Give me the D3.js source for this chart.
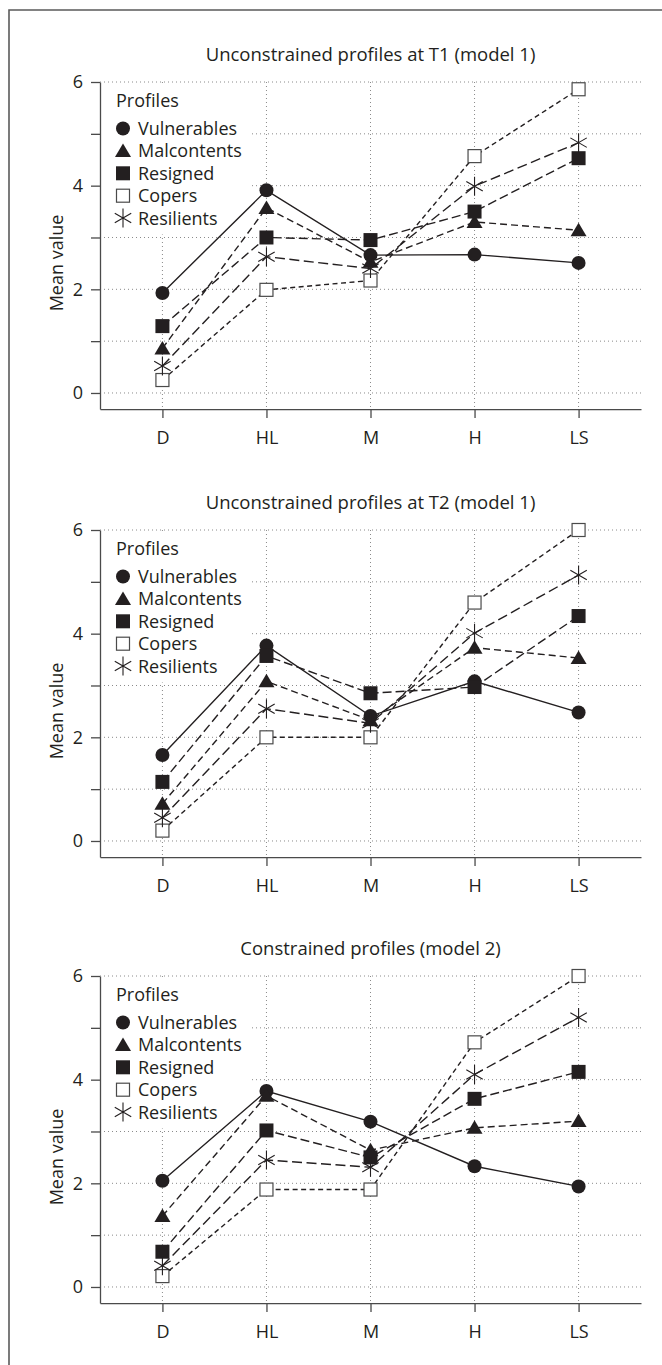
<!DOCTYPE html>
<html>
<head>
<meta charset="utf-8">
<script src="https://cdn.jsdelivr.net/npm/d3@7"></script>
<style>
  body { margin: 0; background: #fff; }
  text { font-family: "Open Sans", sans-serif; fill: #231f20; }
</style>
</head>
<body>
<div id="chart"></div>
<script>
// data
const categories = ["D", "HL", "M", "H", "LS"]
const profiles = ["Vulnerables", "Malcontents", "Resigned", "Copers", "Resilients"]
const panelTitles = [
  "Unconstrained profiles at T1 (model 1)",
  "Unconstrained profiles at T2 (model 1)",
  "Constrained profiles (model 2)"
]
const yTicks = [0, 1, 2, 3, 4, 5, 6]

const t1Vulnerables = [1.93, 3.91, 2.66, 2.67, 2.51]
const t1Malcontents = [0.86, 3.57, 2.53, 3.30, 3.14]
const t1Resigned    = [1.29, 3.00, 2.95, 3.50, 4.53]
const t1Copers      = [0.25, 1.99, 2.17, 4.57, 5.86]
const t1Resilients  = [0.52, 2.63, 2.40, 3.99, 4.83]

const t2Vulnerables = [1.66, 3.77, 2.41, 3.08, 2.48]
const t2Malcontents = [0.72, 3.08, 2.33, 3.73, 3.53]
const t2Resigned    = [1.14, 3.57, 2.85, 2.97, 4.34]
const t2Copers      = [0.20, 2.00, 2.00, 4.60, 6.00]
const t2Resilients  = [0.45, 2.55, 2.27, 4.01, 5.13]

const m2Vulnerables = [2.05, 3.78, 3.19, 2.33, 1.94]
const m2Malcontents = [1.37, 3.69, 2.64, 3.07, 3.20]
const m2Resigned    = [0.68, 3.02, 2.50, 3.63, 4.15]
const m2Copers      = [0.21, 1.88, 1.88, 4.72, 6.00]
const m2Resilients  = [0.41, 2.45, 2.31, 4.10, 5.20]

const panels = [
  [t1Vulnerables, t1Malcontents, t1Resigned, t1Copers, t1Resilients],
  [t2Vulnerables, t2Malcontents, t2Resigned, t2Copers, t2Resilients],
  [m2Vulnerables, m2Malcontents, m2Resigned, m2Copers, m2Resilients]
]

const svgWidth = 662
const svgHeight = 1365
const ink = "#231f20"

// line style per profile
const dashes = ["none", "7,4", "9,4", "5,3.5", "10,4.5"]

let svg = d3
  .select("#chart")
  .append("svg")
  .attr("width", svgWidth)
  .attr("height", svgHeight)

// frame (open to the right and bottom, as in the source)
svg.append("path")
  .attr("d", `M9,${svgHeight} V10 H${svgWidth}`)
  .attr("fill", "none")
  .attr("stroke", "#5a5a5a")
  .attr("stroke-width", 1.6)

const panelTops = [82, 530, 976]
const plotLeft = 100
const plotRight = 641
const unit = 51.83
const yMin = -0.31

let x = d3.scalePoint()
  .domain(categories)
  .range([plotLeft, plotRight])
  .padding(0.6)

let y = d3.scaleLinear()
  .domain([yMin, 6])
  .range([(6 - yMin) * unit, 0])

function drawMarker(sel, type) {
  if (type === 0) {
    sel.append("circle").attr("r", 7).attr("fill", ink)
  } else if (type === 1) {
    sel.append("path").attr("d", "M0,-7.5L8,6L-8,6Z").attr("fill", ink)
  } else if (type === 2) {
    sel.append("rect").attr("x", -7).attr("y", -7).attr("width", 14).attr("height", 14).attr("fill", ink)
  } else if (type === 3) {
    sel.append("rect").attr("x", -6.5).attr("y", -6.5).attr("width", 13).attr("height", 13)
      .attr("fill", "#fff").attr("stroke", "#4a4a4a").attr("stroke-width", 1.2)
  } else {
    let r = 9.5
    let d = [90, 30, 150].map(a => {
      let dx = r * Math.cos(a * Math.PI / 180), dy = r * Math.sin(a * Math.PI / 180)
      return `M${-dx},${-dy}L${dx},${dy}`
    }).join("")
    sel.append("path").attr("d", d).attr("stroke", ink).attr("stroke-width", 1.1).attr("fill", "none")
  }
}

function drawPanel(top, title, series) {
  let g = svg.append("g").attr("transform", `translate(0, ${top})`)

  // dotted grid
  g.selectAll("line.hgrid")
    .data(yTicks)
    .join("line")
    .attr("class", "hgrid")
    .attr("x1", plotLeft).attr("x2", plotRight)
    .attr("y1", d => y(d)).attr("y2", d => y(d))
    .attr("stroke", "#8a8a8a")
    .attr("stroke-dasharray", "1,3")

  g.selectAll("line.vgrid")
    .data(categories)
    .join("line")
    .attr("class", "vgrid")
    .attr("x1", d => x(d)).attr("x2", d => x(d))
    .attr("y1", y(6)).attr("y2", y(yMin))
    .attr("stroke", "#8a8a8a")
    .attr("stroke-dasharray", "1,3")

  // legend background hides the grid
  g.append("rect")
    .attr("x", plotLeft + 1)
    .attr("y", y(6) + 3)
    .attr("width", 150)
    .attr("height", y(3) - y(6) - 6)
    .attr("fill", "#fff")

  // axes
  let yAxis = g.append("g")
    .attr("transform", `translate(${plotLeft}, 0)`)
    .call(d3.axisLeft(y).tickValues(yTicks).tickFormat(d => d % 2 === 0 ? d : "")
      .tickSize(9).tickPadding(8).tickSizeOuter(0))
  let xAxis = g.append("g")
    .attr("transform", `translate(0, ${y(yMin)})`)
    .call(d3.axisBottom(x).tickSize(9).tickPadding(13).tickSizeOuter(0))

  ;[yAxis, xAxis].forEach(a => {
    a.attr("font-family", null).attr("font-size", 18)
    a.selectAll("path, line").attr("stroke", "#4a4a4a").attr("stroke-width", 1.3)
    a.selectAll("text").attr("fill", ink)
  })

  g.append("text")
    .attr("x", (plotLeft + plotRight) / 2)
    .attr("y", y(6) - 21)
    .attr("text-anchor", "middle")
    .attr("font-size", 18.5)
    .text(title)

  // profile lines
  let line = d3.line()
    .x((d, i) => x(categories[i]))
    .y(d => y(d))

  g.selectAll("path.profile")
    .data(series)
    .join("path")
    .attr("class", "profile")
    .attr("d", line)
    .attr("fill", "none")
    .attr("stroke", ink)
    .attr("stroke-width", 1.4)
    .attr("stroke-dasharray", (d, i) => dashes[i])

  series.forEach((vals, s) => {
    vals.forEach((v, i) => {
      let m = g.append("g").attr("transform", `translate(${x(categories[i])}, ${y(v)})`)
      drawMarker(m, s)
    })
  })

  // legend
  g.append("text")
    .attr("x", 116)
    .attr("y", y(6) + 25)
    .attr("font-size", 18)
    .text("Profiles")

  profiles.forEach((p, i) => {
    let cy = y(6) + 46.5 + i * 22.4
    let m = g.append("g").attr("transform", `translate(123, ${cy})`)
    drawMarker(m, i)
    g.append("text")
      .attr("x", 138)
      .attr("y", cy + 6.5)
      .attr("font-size", 18)
      .text(p)
  })

  g.append("text")
    .attr("transform", `translate(63, ${y(6) + 181}) rotate(-90)`)
    .attr("text-anchor", "middle")
    .attr("font-size", 18)
    .text("Mean value")
}

panels.forEach((series, k) => drawPanel(panelTops[k], panelTitles[k], series))
</script>
</body>
</html>
